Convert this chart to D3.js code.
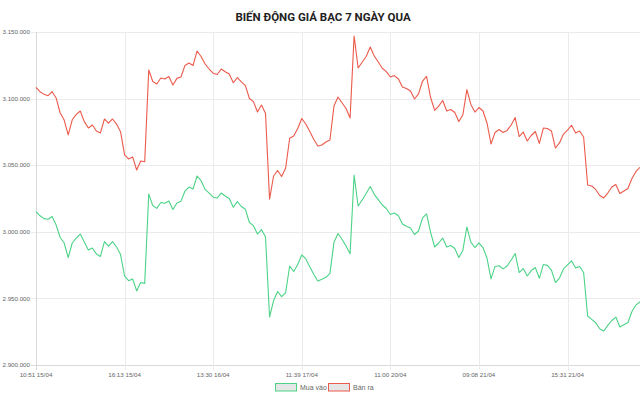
<!DOCTYPE html>
<html>
<head>
<meta charset="utf-8">
<script src="https://cdn.jsdelivr.net/npm/d3@7"></script>
<style>
  body { margin: 0; background: #fff; }
  svg { display: block; }
</style>
</head>
<body>
<script>

// Chart data
var title = "BIẾN ĐỘNG GIÁ BẠC 7 NGÀY QUA";

// buy prices ("Mua vào"), one per sample
var buyPrices = [
  3015100, 3012000, 3009900, 3009400, 3011500, 3005100, 2995700, 2991600, 2980600, 2991600,
  2995300, 2998300, 2992300, 2986300, 2987800, 2983300, 2981500, 2992700, 2989300, 2992700,
  2988600, 2982900, 2966800, 2963300, 2964600, 2955600, 2961900, 2961300, 3028400, 3019700,
  3017600, 3022000, 3021400, 3023100, 3016700, 3021600, 3023000, 3030600, 3033600, 3032100,
  3041900, 3038400, 3031800, 3029100, 3026000, 3025400, 3029100, 3026900, 3025000, 3018400,
  3022700, 3019000, 3016900, 3007000, 3004600, 2998300, 3001700, 2996100, 2936000, 2948400,
  2955200, 2951300, 2954400, 2974300, 2970200, 2975500, 2982600, 2979600, 2973800, 2968000,
  2963100, 2964300, 2965800, 2968800, 2992200, 2998700, 2994400, 2989300, 2983600, 3042600,
  3019400, 3023900, 3028700, 3034000, 3028100, 3024100, 3020100, 3017500, 3013000, 3014100,
  3012000, 3005900, 3004100, 3002900, 2998000, 3000600, 3010400, 3013400, 2999500, 2988600,
  2991600, 2995300, 2988600, 2989700, 2987500, 2980700, 2986000, 3003600, 2992300, 2988200,
  2991700, 2988200, 2980300, 2964600, 2974000, 2974500, 2972200, 2974300, 2978800, 2983700,
  2969400, 2972400, 2966800, 2970900, 2973200, 2965100, 2975500, 2974800, 2971300, 2961900,
  2965300, 2972100, 2975100, 2978200, 2972800, 2974000, 2969400, 2936800, 2934300, 2931700,
  2927200, 2925500, 2929700, 2933400, 2936000, 2928500, 2930200, 2931900, 2940200, 2945000,
  2947500
];

// sell prices ("Bán ra")
var sellPrices = [
  3108500, 3105200, 3103200, 3102200, 3105200, 3100500, 3089200, 3083900, 3072700, 3084100,
  3088100, 3090700, 3082700, 3077900, 3080200, 3075700, 3074200, 3084700, 3081500, 3084700,
  3080900, 3075200, 3057700, 3054700, 3056200, 3046400, 3053200, 3052600, 3121500, 3112800,
  3111000, 3115500, 3114700, 3116600, 3110200, 3115200, 3116200, 3124900, 3126700, 3124900,
  3135700, 3131600, 3126000, 3122200, 3119100, 3118100, 3122200, 3120200, 3118500, 3111900,
  3115800, 3112500, 3109700, 3100100, 3097700, 3089900, 3095200, 3088800, 3024600, 3041900,
  3046000, 3041500, 3047900, 3070200, 3071900, 3077600, 3085100, 3080900, 3075300, 3069300,
  3064400, 3065200, 3067400, 3068900, 3094400, 3101200, 3096900, 3092600, 3085400, 3147000,
  3123000, 3127300, 3131600, 3138700, 3132000, 3127500, 3122800, 3120300, 3116200, 3117300,
  3114700, 3108700, 3107600, 3105700, 3099700, 3103500, 3113200, 3116600, 3100800, 3091100,
  3094400, 3098600, 3090700, 3091800, 3089600, 3082800, 3087700, 3106800, 3095600, 3089900,
  3093300, 3090700, 3081700, 3065900, 3074600, 3076800, 3074600, 3076100, 3080200, 3085800,
  3071500, 3074900, 3068200, 3072300, 3075300, 3066400, 3077900, 3077600, 3075700, 3062900,
  3066700, 3073400, 3076400, 3080000, 3074200, 3075700, 3071200, 3035100, 3034400, 3031800,
  3027300, 3025400, 3029100, 3033600, 3035500, 3028800, 3030600, 3032500, 3040000, 3045300,
  3048400
];

// x tick labels and the sample they sit on
var tickLabels = ["10:51 15/04", "16:13 15/04", "13:30 16/04", "11:39 17/04", "11:00 20/04", "09:08 21/04", "15:31 21/04"];
var tickIndex = [0, 22, 44, 66, 88, 110, 132];

// y ticks
var yTicks = [2900000, 2950000, 3000000, 3050000, 3100000, 3150000];

var seriesNames = ["Mua vào", "Bán ra"];
var seriesColors = ["#4cd387", "#eb5a4b"];

// width/height of SVG container
var w = 640;
var h = 397;
// plot area (don't call these top/left, window.top is read only)
var plotL = 36, plotR = 640, plotT = 32, plotB = 365;

var svg = d3.select("body")
  .append("svg")
  .attr("width", w)
  .attr("height", h);

var x = d3.scaleLinear()
  .domain([0, buyPrices.length - 1])
  .range([plotL, plotR]);

var y = d3.scaleLinear()
  .domain([2900000, 3150000])
  .range([plotB, plotT]);

// vietnamese style thousands: 3.150.000
var fmt = function(d) {
  return d3.format(",")(d).replace(/,/g, ".");
};

// horizontal grid + y labels
svg.selectAll(".ygrid")
  .data(yTicks)
  .enter()
  .append("line")
  .attr("class", "ygrid")
  .attr("x1", plotL - 5)
  .attr("x2", plotR)
  .attr("y1", function(d) { return Math.round(y(d)) + 0.5; })
  .attr("y2", function(d) { return Math.round(y(d)) + 0.5; })
  .attr("stroke", function(d, i) { return i == 0 ? "#d9d9d9" : "#ebebeb"; })
  .attr("stroke-width", 1);

svg.selectAll(".ylab")
  .data(yTicks)
  .enter()
  .append("text")
  .attr("class", "ylab")
  .attr("x", plotL - 6)
  .attr("y", function(d) { return y(d) + 2.2; })
  .attr("text-anchor", "end")
  .attr("font-family", "Liberation Sans, Arial, sans-serif")
  .attr("font-size", "6.2px")
  .attr("fill", "#666")
  .text(fmt);

// vertical grid + x labels
svg.selectAll(".xgrid")
  .data(tickIndex)
  .enter()
  .append("line")
  .attr("class", "xgrid")
  .attr("x1", function(d) { return Math.round(x(d)) + 0.5; })
  .attr("x2", function(d) { return Math.round(x(d)) + 0.5; })
  .attr("y1", plotT)
  .attr("y2", plotB + 5)
  .attr("stroke", function(d, i) { return i == 0 ? "#d9d9d9" : "#ebebeb"; })
  .attr("stroke-width", 1);

svg.selectAll(".xlab")
  .data(tickIndex)
  .enter()
  .append("text")
  .attr("class", "xlab")
  .attr("x", function(d) { return x(d); })
  .attr("y", plotB + 12)
  .attr("text-anchor", "middle")
  .attr("font-family", "Liberation Sans, Arial, sans-serif")
  .attr("font-size", "6.2px")
  .attr("fill", "#666")
  .text(function(d, i) { return tickLabels[i]; });

// lines
var line = d3.line()
  .x(function(d, i) { return x(i); })
  .y(function(d) { return y(d); });

svg.selectAll(".series")
  .data([buyPrices, sellPrices])
  .enter()
  .append("path")
  .attr("class", "series")
  .attr("d", line)
  .attr("fill", "none")
  .attr("stroke", function(d, i) { return seriesColors[i]; })
  .attr("stroke-width", 1.1)
  .attr("stroke-linejoin", "round");

// title (narrower face than Open Sans, ref spans ~240..407)
svg.append("text")
  .attr("x", w / 2 + 3)
  .attr("y", 21)
  .attr("text-anchor", "middle")
  .attr("font-family", "Roboto, sans-serif")
  .attr("font-weight", "bold")
  .attr("font-size", "11.5px")
  .attr("fill", "#222")
  .text(title);

// legend
var legendX = [275, 328];
var leg = svg.selectAll(".legend")
  .data(seriesNames)
  .enter()
  .append("g")
  .attr("class", "legend")
  .attr("transform", function(d, i) { return "translate(" + legendX[i] + ",383)"; });

leg.append("rect")
  .attr("x", 0.5)
  .attr("y", 0.5)
  .attr("width", 21)
  .attr("height", 7.5)
  .attr("fill", "#e6e6e6")
  .attr("stroke", function(d, i) { return seriesColors[i]; })
  .attr("stroke-width", 1);

leg.append("text")
  .attr("x", 25)
  .attr("y", 6.8)
  .attr("font-family", "Liberation Sans, Arial, sans-serif")
  .attr("font-size", "7px")
  .attr("fill", "#666")
  .text(function(d) { return d; });

</script>
</body>
</html>
